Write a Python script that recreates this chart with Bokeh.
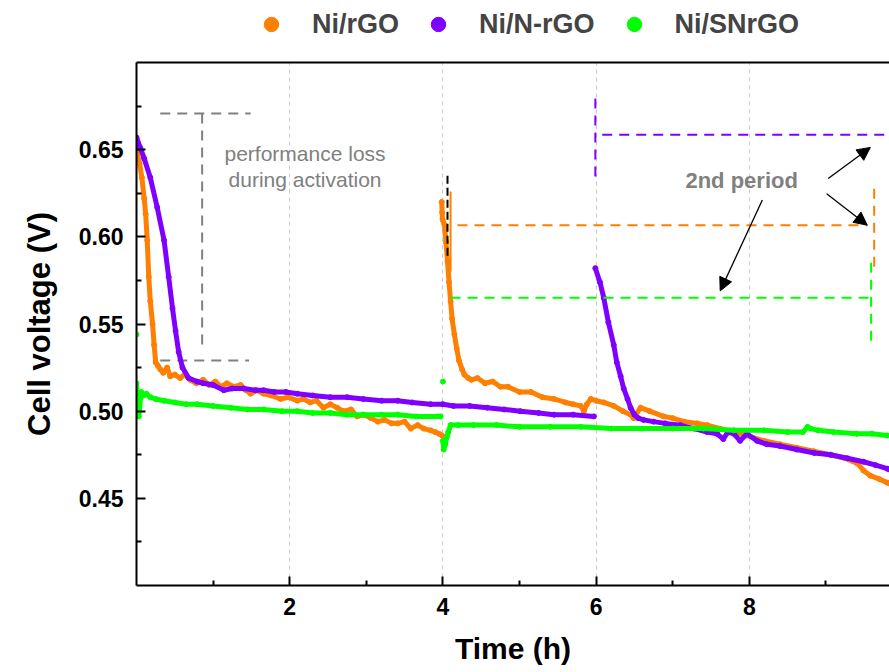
import numpy as np
from bokeh.plotting import figure
from bokeh.layouts import column
from bokeh.models import (Range1d, LinearAxis, FixedTicker, Legend, LegendItem, Title,
                          Label, Arrow, NormalHead, ColumnDataSource)
from bokeh.embed import file_html
from bokeh.resources import INLINE

FONT = "Liberation Sans"

# ---------------- data ----------------
series_names = ["Ni/rGO", "Ni/N-rGO", "Ni/SNrGO"]
series_colors = ["#FF7F00", "#7F00FF", "#00FF00"]

# Ni/rGO, first period
rgo1_t = [0.00, 0.04, 0.07, 0.10, 0.12, 0.14, 0.16, 0.18, 0.21, 0.23, 0.25, 0.28, 0.31, 0.35, 0.40,
          0.44, 0.50, 0.57, 0.63, 0.70, 0.78, 0.87, 0.95, 1.03, 1.10, 1.18, 1.27, 1.36, 1.43, 1.49,
          1.57, 1.66, 1.76, 1.88, 1.98, 2.10, 2.18, 2.27, 2.35, 2.44, 2.53, 2.62, 2.70, 2.80, 2.88,
          2.97, 3.06, 3.15, 3.24, 3.33, 3.41, 3.50, 3.58, 3.67, 3.75, 3.84, 3.90, 3.95, 3.99]
rgo1_v = [0.650, 0.642, 0.634, 0.622, 0.613, 0.598, 0.577, 0.563, 0.550, 0.538, 0.528, 0.526, 0.524, 0.522, 0.525,
          0.520, 0.521, 0.519, 0.521, 0.518, 0.516, 0.518, 0.515, 0.517, 0.514, 0.516, 0.514, 0.515, 0.512, 0.510,
          0.512, 0.510, 0.509, 0.507, 0.508, 0.506, 0.507, 0.505, 0.506, 0.502, 0.504, 0.502, 0.500, 0.501, 0.497,
          0.498, 0.496, 0.494, 0.495, 0.493, 0.493, 0.494, 0.490, 0.492, 0.490, 0.489, 0.488, 0.487, 0.486]
# Ni/rGO, second period
rgo2_t = [3.985, 3.990, 3.995, 4.02, 4.04, 4.06, 4.08, 4.10, 4.12, 4.15, 4.18, 4.21, 4.25, 4.28, 4.33,
          4.37, 4.45, 4.55, 4.65, 4.75, 4.85, 5.00, 5.15, 5.30, 5.45, 5.60, 5.70, 5.80, 5.84, 5.88,
          5.93, 6.00, 6.10, 6.23, 6.35, 6.45, 6.49, 6.58, 6.70, 6.88, 7.00, 7.15, 7.32, 7.45, 7.62,
          7.80, 7.97, 8.19, 8.40, 8.62, 8.84, 9.06, 9.25, 9.41, 9.49, 9.58, 9.70, 9.80, 9.85]
rgo2_v = [0.620, 0.614, 0.610, 0.607, 0.597, 0.586, 0.574, 0.563, 0.553, 0.544, 0.536, 0.529, 0.524, 0.521, 0.519,
          0.518, 0.519, 0.516, 0.517, 0.514, 0.514, 0.511, 0.511, 0.508, 0.507, 0.505, 0.504, 0.503, 0.500, 0.504,
          0.507, 0.506, 0.505, 0.503, 0.500, 0.498, 0.496, 0.502, 0.500, 0.497, 0.496, 0.494, 0.493, 0.492, 0.490,
          0.488, 0.486, 0.483, 0.481, 0.479, 0.477, 0.475, 0.473, 0.470, 0.466, 0.463, 0.461, 0.459, 0.458]

# Ni/N-rGO, first period
nrgo1_t = [0.00, 0.05, 0.10, 0.18, 0.27, 0.36, 0.42, 0.47, 0.51, 0.55, 0.60, 0.68, 0.79, 0.87, 1.00,
           1.14, 1.25, 1.40, 1.55, 1.66, 1.80, 1.95, 2.10, 2.30, 2.53, 2.75, 2.96, 3.20, 3.41, 3.60,
           3.84, 4.00, 4.14, 4.35, 4.58, 4.80, 5.01, 5.25, 5.45, 5.70, 5.97]
nrgo1_v = [0.657, 0.651, 0.645, 0.634, 0.617, 0.598, 0.577, 0.559, 0.546, 0.534, 0.525, 0.519, 0.517, 0.516, 0.515,
           0.512, 0.513, 0.513, 0.512, 0.512, 0.511, 0.511, 0.510, 0.509, 0.508, 0.508, 0.507, 0.506, 0.506, 0.505,
           0.504, 0.504, 0.503, 0.503, 0.502, 0.501, 0.500, 0.499, 0.498, 0.498, 0.497]
# Ni/N-rGO, second period
nrgo2_t = [5.99, 6.05, 6.10, 6.16, 6.23, 6.27, 6.32, 6.36, 6.41, 6.45, 6.50, 6.55, 6.62, 6.75, 6.90,
           7.10, 7.28, 7.45, 7.58, 7.66, 7.72, 7.80, 7.88, 7.97, 8.10, 8.23, 8.40, 8.62, 8.85, 9.06,
           9.28, 9.49, 9.65, 9.80, 9.85]
nrgo2_v = [0.582, 0.574, 0.565, 0.551, 0.538, 0.528, 0.520, 0.513, 0.507, 0.502, 0.498, 0.496, 0.495, 0.494, 0.493,
           0.492, 0.490, 0.488, 0.487, 0.484, 0.488, 0.487, 0.483, 0.487, 0.483, 0.481, 0.480, 0.478, 0.476, 0.475,
           0.473, 0.471, 0.469, 0.467, 0.466]

# Ni/SNrGO
snrgo1_t = [0.00, 0.01, 0.03, 0.06, 0.09, 0.13, 0.18, 0.25, 0.36, 0.50, 0.65, 0.79, 1.00, 1.23, 1.45,
            1.66, 1.90, 2.10, 2.30, 2.53, 2.75, 2.96, 3.20, 3.41, 3.65, 3.93, 3.97]
snrgo1_v = [0.516, 0.500, 0.497, 0.511, 0.509, 0.510, 0.508, 0.507, 0.506, 0.505, 0.504, 0.504, 0.503, 0.502, 0.501,
            0.501, 0.500, 0.500, 0.499, 0.499, 0.498, 0.498, 0.498, 0.498, 0.497, 0.497, 0.497]
snrgo_single_t = [0.00, 4.00]
snrgo_single_v = [0.544, 0.517]
snrgo2_t = [4.00, 4.01, 4.03, 4.05, 4.07, 4.10, 4.20, 4.40, 4.70, 5.00, 5.40, 5.80, 6.20, 6.60,
            7.00, 7.40, 7.80, 8.19, 8.50, 8.70, 8.76, 8.80, 8.90, 9.10, 9.40, 9.60, 9.80, 9.85]
snrgo2_v = [0.483, 0.478, 0.481, 0.485, 0.488, 0.492, 0.492, 0.492, 0.492, 0.491, 0.491, 0.491, 0.490, 0.490,
            0.490, 0.490, 0.489, 0.489, 0.488, 0.488, 0.491, 0.490, 0.489, 0.488, 0.487, 0.487, 0.486, 0.486]

# axis ticks
x_major = [2, 4, 6, 8]
x_minor = [1, 3, 5, 7, 9]
y_major = [0.45, 0.50, 0.55, 0.60, 0.65]
y_minor = [0.425, 0.475, 0.525, 0.575, 0.625, 0.675]
y_labels = {0.45: "0.45", 0.50: "0.50", 0.55: "0.55", 0.60: "0.60", 0.65: "0.65"}

# reference (dashed) level lines: x0, x1, y0, y1
act_x0 = [0.31, 0.857, 0.31]
act_x1 = [1.49, 0.857, 1.47]
act_y0 = [0.6707, 0.6707, 0.5291]
act_y1 = [0.6707, 0.5356, 0.5291]

level_x0 = [4.19, 9.63, 4.10, 9.59, 5.99, 6.08]
level_x1 = [9.54, 9.63, 9.65, 9.59, 5.99, 10.0]
level_y0 = [0.6067, 0.6276, 0.5651, 0.5852, 0.6793, 0.6586]
level_y1 = [0.6067, 0.5805, 0.5651, 0.5385, 0.6320, 0.6586]
level_col = [0, 0, 2, 2, 1, 1]

black_x = [4.06]
black_y0 = [0.635]
black_y1 = [0.588]
orange_bar_x = [4.10]
orange_bar_y0 = [0.626]
orange_bar_y1 = [0.580]

arrow_x0 = [9.03, 9.01, 8.17]
arrow_y0 = [0.6335, 0.6247, 0.6211]
arrow_x1 = [9.58, 9.54, 7.62]
arrow_y1 = [0.6513, 0.6067, 0.569]


def join(*segs):
    xs, ys = [], []
    for i, (t, v) in enumerate(segs):
        if i:
            xs.append(np.nan)
            ys.append(np.nan)
        xs += list(t)
        ys += list(v)
    return np.array(xs, float), np.array(ys, float)


series = [
    [(rgo1_t, rgo1_v), (rgo2_t, rgo2_v)],
    [(nrgo1_t, nrgo1_v), (nrgo2_t, nrgo2_v)],
    [(snrgo1_t, snrgo1_v), (snrgo2_t, snrgo2_v)],
]
extra_points = [None, None, (snrgo_single_t, snrgo_single_v)]

LEG_H = 48
# ---------------- main figure ----------------
p = figure(width=889, height=672 - LEG_H, x_range=Range1d(0, 9.83), y_range=Range1d(0.40, 0.70),
           output_backend="svg", toolbar_location=None,
           min_border_left=136, min_border_right=0, min_border_top=62 - LEG_H, min_border_bottom=87)
p.outline_line_color = None
p.background_fill_color = "white"

for ax, major, minor in ((p.xaxis[0], x_major, x_minor), (p.yaxis[0], y_major, y_minor)):
    ax.ticker = FixedTicker(ticks=major, minor_ticks=minor)
    ax.axis_line_width = 2
    ax.axis_line_color = "black"
    ax.major_tick_line_width = 2
    ax.minor_tick_line_width = 2
    ax.major_tick_in = 9
    ax.major_tick_out = 0
    ax.minor_tick_in = 5
    ax.minor_tick_out = 0
    ax.major_label_text_font = FONT
    ax.major_label_text_font_style = "bold"
    ax.major_label_text_font_size = "23px"
    ax.major_label_text_color = "black"
    ax.axis_label_text_font = FONT
    ax.axis_label_text_font_style = "bold"
    ax.axis_label_text_color = "black"
p.xaxis[0].major_label_standoff = 12
p.yaxis[0].major_label_standoff = 13
p.yaxis[0].major_label_overrides = y_labels
p.xaxis[0].axis_label = "Time (h)"
p.xaxis[0].axis_label_text_font_size = "30px"
p.xaxis[0].axis_label_standoff = 14

# y-axis title as a side title so it can sit slightly above the frame centre
p.add_layout(Title(text="Cell voltage (V)", align="center", offset=18, standoff=38,
                   text_font=FONT, text_font_size="31px", text_font_style="bold",
                   text_color="black"), "left")

top = LinearAxis(ticker=FixedTicker(ticks=[]), axis_line_width=2, axis_line_color="black",
                 major_tick_line_color=None, minor_tick_line_color=None,
                 major_tick_in=0, major_tick_out=0, minor_tick_in=0, minor_tick_out=0,
                 major_label_text_font_size="0px")
p.add_layout(top, "above")

p.xgrid.ticker = FixedTicker(ticks=x_major)
p.xgrid.grid_line_color = "#c8c8c8"
p.xgrid.grid_line_dash = "4 4"
p.xgrid.grid_line_width = 1
p.ygrid.visible = False

# annotation lines
for i in range(len(act_x0)):
    p.segment(x0=[act_x0[i]], y0=[act_y0[i]], x1=[act_x1[i]], y1=[act_y1[i]],
              line_color="#808080", line_width=2, line_dash="10 7")

for k, segs in enumerate(series):
    xs, ys = join(*segs)
    col = series_colors[k]
    p.line(xs, ys, line_color=col, line_width=5, line_join="round", line_cap="round")
    px = xs[~np.isnan(xs)]
    py = ys[~np.isnan(ys)]
    if extra_points[k] is not None:
        px = np.concatenate([px, extra_points[k][0]])
        py = np.concatenate([py, extra_points[k][1]])
    p.scatter(px, py, size=5, fill_color=col, line_color=col)

for i in range(len(level_x0)):
    p.segment(x0=[level_x0[i]], y0=[level_y0[i]], x1=[level_x1[i]], y1=[level_y1[i]],
              line_color=series_colors[level_col[i]], line_width=2, line_dash="10 7")
p.segment(x0=black_x, y0=black_y0, x1=black_x, y1=black_y1,
          line_color="black", line_width=2, line_dash="8 4")
p.segment(x0=orange_bar_x, y0=orange_bar_y0, x1=orange_bar_x, y1=orange_bar_y1,
          line_color=series_colors[0], line_width=2)

arrow_src = ColumnDataSource(dict(x0=arrow_x0, y0=arrow_y0, x1=arrow_x1, y1=arrow_y1))
p.add_layout(Arrow(end=NormalHead(size=13, fill_color="black", line_color="black", line_width=1),
                   x_start="x0", y_start="y0", x_end="x1", y_end="y1", source=arrow_src,
                   line_color="black", line_width=1.3))

# texts
def add_label(x, y, text, size, bold=False, color="black"):
    p.add_layout(Label(x=x, y=y, text=text, text_font=FONT, text_font_size=size,
                       text_font_style="bold" if bold else "normal", text_color=color,
                       text_align="center", text_baseline="middle"))

add_label(2.20, 0.6477, "performance loss", "21px", color="#808080")
add_label(2.20, 0.6328, "during activation", "21px", color="#808080")
add_label(7.90, 0.6322, "2nd period", "22px", bold=True, color="#808080")

# ---------------- legend strip ----------------
lf = figure(width=889, height=LEG_H, x_range=Range1d(0, 1), y_range=Range1d(0, 1),
            output_backend="svg", toolbar_location=None, x_axis_location=None, y_axis_location=None,
            min_border=0)
lf.outline_line_color = None
lf.xgrid.visible = False
lf.ygrid.visible = False
legend_items = []
for k in range(3):
    # one off-range point so the legend has a glyph to draw
    r = lf.scatter(x=[-5], y=[-5], size=5, fill_color=series_colors[k], line_color=series_colors[k])
    legend_items.append(LegendItem(label=series_names[k], renderers=[r]))
legend = Legend(items=legend_items, orientation="horizontal", location=(117, (LEG_H - 36) // 2),
                glyph_width=36, glyph_height=36, label_standoff=23, spacing=21,
                padding=0, margin=0, border_line_color=None, background_fill_alpha=0,
                label_text_font=FONT, label_text_font_style="bold", label_text_font_size="27px")
lf.add_layout(legend)

layout = column(lf, p, spacing=0)
open("out.html", "w").write(file_html(layout, INLINE))
